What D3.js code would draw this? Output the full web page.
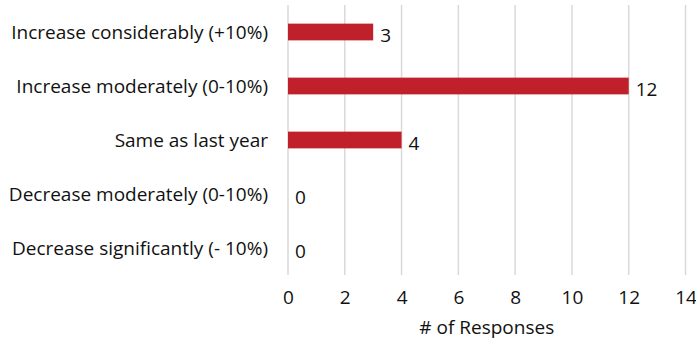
<!DOCTYPE html>
<html>
<head>
<meta charset="utf-8">
<script src="https://cdn.jsdelivr.net/npm/d3@7"></script>
<style>
  html, body { margin: 0; padding: 0; background: #fff; }
  svg { display: block; font-family: "Open Sans", "Noto Sans", sans-serif; }
</style>
</head>
<body>
<svg id="chart" width="696" height="341"></svg>
<script>
// Survey answers, top to bottom
const categories = [
  "Increase considerably (+10%)",
  "Increase moderately (0-10%)",
  "Same as last year",
  "Decrease moderately (0-10%)",
  "Decrease significantly (- 10%)"
];
const responses = [3, 12, 4, 0, 0];
const xTicks = [0, 2, 4, 6, 8, 10, 12, 14];
const xTitle = "# of Responses";

const svg = d3.select("#chart");
const margin = { left: 288, right: 10.5, top: 5, bottom: 66 };
const W = 696, H = 341;
const fs = 19;

const x = d3.scaleLinear().domain([0, 14]).range([margin.left, W - margin.right]);
const y = d3.scaleBand().domain(categories).range([margin.top, H - margin.bottom]).paddingInner(0.69).paddingOuter(0.345);

// vertical gridlines
svg.append("g").selectAll("line").data(xTicks).join("line")
  .attr("x1", d => x(d)).attr("x2", d => x(d))
  .attr("y1", margin.top).attr("y2", H - margin.bottom)
  .attr("stroke", "#d9d9d9").attr("stroke-width", 1.5);

// bars
svg.append("g").selectAll("rect").data(categories).join("rect")
  .attr("x", x(0))
  .attr("y", d => y(d))
  .attr("width", (d, i) => x(responses[i]) - x(0))
  .attr("height", y.bandwidth())
  .attr("fill", "#c0202a");

// value labels
svg.append("g").selectAll("text").data(categories).join("text")
  .attr("x", (d, i) => x(responses[i]) + 7)
  .attr("y", d => y(d) + y.bandwidth() / 2)
  .attr("dy", "0.5em")
  .attr("font-size", fs)
  .attr("fill", "#111")
  .text((d, i) => responses[i]);

// category labels
svg.append("g").selectAll("text").data(categories).join("text")
  .attr("x", 268)
  .attr("y", d => y(d) + y.bandwidth() / 2)
  .attr("dy", "0.35em")
  .attr("text-anchor", "end")
  .attr("font-size", fs)
  .attr("fill", "#111")
  .text(d => d);

// x axis tick labels
const xAxis = d3.axisBottom(x).tickValues(xTicks).tickSize(0).tickPadding(0);
const gx = svg.append("g").attr("transform", `translate(0,${H - margin.bottom + 15})`).call(xAxis);
gx.select(".domain").remove();
gx.selectAll("text").attr("font-size", fs).attr("fill", "#111").attr("font-family", "Open Sans, Noto Sans, sans-serif");

// axis title
svg.append("text")
  .attr("x", (x(0) + x(14)) / 2)
  .attr("y", 334)
  .attr("text-anchor", "middle")
  .attr("font-size", fs)
  .attr("fill", "#111")
  .text(xTitle);
</script>
</body>
</html>
